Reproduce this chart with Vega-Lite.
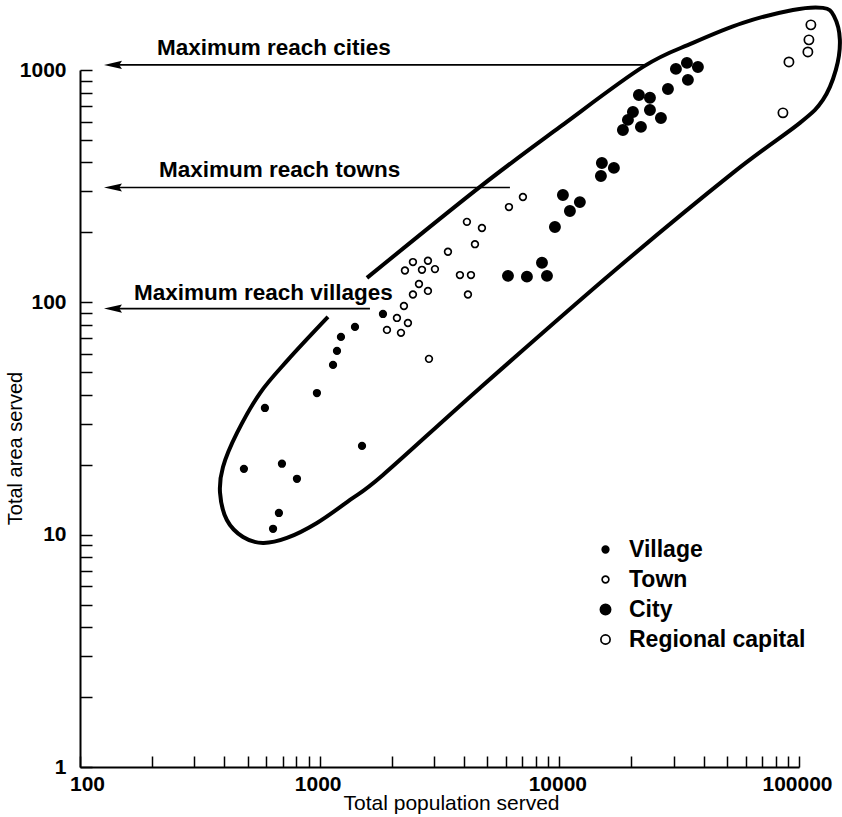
{
  "$schema": "https://vega.github.io/schema/vega-lite/v6.json",
  "width": 719,
  "height": 697,
  "autosize": {"type": "none"},
  "padding": {"left": 80, "top": 70, "right": 43, "bottom": 50},
  "background": "white",
  "config": {"view": {"stroke": null}, "font": "Liberation Sans"},
  "datasets": {
    "points": [
      {"pop": 1837, "area": 89.1, "type": "Village"},
      {"pop": 1404, "area": 78.4, "type": "Village"},
      {"pop": 1227, "area": 71.0, "type": "Village"},
      {"pop": 1181, "area": 61.8, "type": "Village"},
      {"pop": 1137, "area": 53.8, "type": "Village"},
      {"pop": 974, "area": 40.7, "type": "Village"},
      {"pop": 591, "area": 35.1, "type": "Village"},
      {"pop": 1502, "area": 24.1, "type": "Village"},
      {"pop": 483, "area": 19.2, "type": "Village"},
      {"pop": 696, "area": 20.2, "type": "Village"},
      {"pop": 804, "area": 17.4, "type": "Village"},
      {"pop": 676, "area": 12.4, "type": "Village"},
      {"pop": 639, "area": 10.6, "type": "Village"},
      {"pop": 7048, "area": 284, "type": "Town"},
      {"pop": 6163, "area": 257, "type": "Town"},
      {"pop": 4115, "area": 222, "type": "Town"},
      {"pop": 4754, "area": 209, "type": "Town"},
      {"pop": 4446, "area": 178, "type": "Town"},
      {"pop": 3430, "area": 165, "type": "Town"},
      {"pop": 2450, "area": 149, "type": "Town"},
      {"pop": 2830, "area": 151, "type": "Town"},
      {"pop": 2269, "area": 137, "type": "Town"},
      {"pop": 2672, "area": 138, "type": "Town"},
      {"pop": 3027, "area": 139, "type": "Town"},
      {"pop": 3848, "area": 131, "type": "Town"},
      {"pop": 4278, "area": 131, "type": "Town"},
      {"pop": 2596, "area": 120, "type": "Town"},
      {"pop": 2830, "area": 112, "type": "Town"},
      {"pop": 2450, "area": 108, "type": "Town"},
      {"pop": 4156, "area": 108, "type": "Town"},
      {"pop": 2247, "area": 96.5, "type": "Town"},
      {"pop": 2101, "area": 85.7, "type": "Town"},
      {"pop": 2335, "area": 81.5, "type": "Town"},
      {"pop": 1909, "area": 76.1, "type": "Town"},
      {"pop": 2184, "area": 73.9, "type": "Town"},
      {"pop": 2858, "area": 57.1, "type": "Town"},
      {"pop": 34070, "area": 1073, "type": "City"},
      {"pop": 37860, "area": 1031, "type": "City"},
      {"pop": 30650, "area": 1011, "type": "City"},
      {"pop": 34390, "area": 907, "type": "City"},
      {"pop": 28390, "area": 829, "type": "City"},
      {"pop": 21480, "area": 781, "type": "City"},
      {"pop": 23880, "area": 759, "type": "City"},
      {"pop": 20280, "area": 660, "type": "City"},
      {"pop": 23880, "area": 673, "type": "City"},
      {"pop": 26540, "area": 622, "type": "City"},
      {"pop": 19330, "area": 610, "type": "City"},
      {"pop": 18420, "area": 552, "type": "City"},
      {"pop": 21900, "area": 569, "type": "City"},
      {"pop": 15050, "area": 398, "type": "City"},
      {"pop": 16890, "area": 379, "type": "City"},
      {"pop": 14910, "area": 350, "type": "City"},
      {"pop": 10350, "area": 290, "type": "City"},
      {"pop": 12180, "area": 270, "type": "City"},
      {"pop": 11070, "area": 247, "type": "City"},
      {"pop": 9585, "area": 211, "type": "City"},
      {"pop": 8464, "area": 148, "type": "City"},
      {"pop": 6105, "area": 130, "type": "City"},
      {"pop": 7324, "area": 129, "type": "City"},
      {"pop": 8880, "area": 130, "type": "City"},
      {"pop": 112100, "area": 1564, "type": "Regional capital"},
      {"pop": 110000, "area": 1348, "type": "Regional capital"},
      {"pop": 108900, "area": 1196, "type": "Regional capital"},
      {"pop": 90780, "area": 1083, "type": "Regional capital"},
      {"pop": 85700, "area": 654, "type": "Regional capital"}
    ],
    "ellipse": [
      {"o": 1, "pop": 1575, "area": 127.4},
      {"o": 2, "pop": 4665, "area": 314},
      {"o": 3, "pop": 10060, "area": 569},
      {"o": 4, "pop": 22330, "area": 1031},
      {"o": 5, "pop": 36090, "area": 1308},
      {"o": 6, "pop": 58340, "area": 1595},
      {"o": 7, "pop": 94320, "area": 1814},
      {"o": 8, "pop": 125800, "area": 1851},
      {"o": 9, "pop": 139800, "area": 1710},
      {"o": 10, "pop": 148100, "area": 1348},
      {"o": 11, "pop": 142500, "area": 1001},
      {"o": 12, "pop": 125800, "area": 743.5},
      {"o": 13, "pop": 100900, "area": 592},
      {"o": 14, "pop": 52990, "area": 360.6},
      {"o": 15, "pop": 16730, "area": 135.1},
      {"o": 16, "pop": 4665, "area": 42.8},
      {"o": 17, "pop": 1837, "area": 18.07},
      {"o": 18, "pop": 1338, "area": 14.11},
      {"o": 19, "pop": 974, "area": 11.23},
      {"o": 20, "pop": 730, "area": 9.68},
      {"o": 21, "pop": 580, "area": 9.21},
      {"o": 22, "pop": 479, "area": 9.77},
      {"o": 23, "pop": 410, "area": 11.57},
      {"o": 24, "pop": 384, "area": 15.12},
      {"o": 25, "pop": 395, "area": 19.56},
      {"o": 26, "pop": 452, "area": 27.4},
      {"o": 27, "pop": 564, "area": 40.7},
      {"o": 28, "pop": 737, "area": 56.5},
      {"o": 29, "pop": 1083, "area": 86.5}
    ],
    "arrows": [
      {"pop": 140, "pop2": 22750, "area": 1052, "head": 137.3, "label": "Maximum reach cities", "tpop": 209.5, "tarea": 1245},
      {"pop": 140, "pop2": 6221, "area": 312, "head": 137.3, "label": "Maximum reach towns", "tpop": 213.6, "tarea": 371.6},
      {"pop": 140, "pop2": 1621, "area": 94, "head": 137.3, "label": "Maximum reach villages", "tpop": 168, "tarea": 109.8}
    ]
  },
  "encoding": {
    "x": {
      "field": "pop",
      "type": "quantitative",
      "scale": {"type": "log", "domain": [100, 100000]},
      "axis": {
        "title": "Total population served",
        "titleFont": "Liberation Sans",
        "titleFontSize": 21,
        "titleFontWeight": "normal",
        "titleColor": "black",
        "titleX": 371,
        "titleY": 36,
        "titleBaseline": "middle",
        "titleAlign": "center",
        "values": [100, 200, 300, 400, 500, 600, 700, 800, 900, 1000, 2000, 3000, 4000, 5000, 6000, 7000, 8000, 9000, 10000, 20000, 30000, 40000, 50000, 60000, 70000, 80000, 90000, 100000],
        "format": "d",
        "labelExpr": "(datum.value == 100 || datum.value == 1000 || datum.value == 10000 || datum.value == 100000) ? datum.label : ''",
        "labelFont": "Liberation Sans",
        "labelFontSize": 21,
        "labelFontWeight": "bold",
        "labelColor": "black",
        "labelBaseline": "middle",
        "labelPadding": 28,
        "labelOffset": {"condition": {"test": "datum.value == 100", "value": 7}, "value": -2},
        "labelFlush": false,
        "labelOverlap": false,
        "tickSize": -11,
        "tickWidth": 1.5,
        "tickColor": "black",
        "domainColor": "black",
        "domainWidth": 2,
        "grid": false
      }
    },
    "y": {
      "field": "area",
      "type": "quantitative",
      "scale": {"type": "log", "domain": [1, 1000]},
      "axis": {
        "title": "Total area served",
        "titleFont": "Liberation Sans",
        "titleFontSize": 20,
        "titleFontWeight": "normal",
        "titleColor": "black",
        "titleX": -65,
        "titleY": 378,
        "titleBaseline": "middle",
        "titleAlign": "center",
        "titleAngle": -90,
        "values": [1, 2, 3, 4, 5, 6, 7, 8, 9, 10, 20, 30, 40, 50, 60, 70, 80, 90, 100, 200, 300, 400, 500, 600, 700, 800, 900, 1000],
        "format": "d",
        "labelExpr": "(datum.value == 1 || datum.value == 10 || datum.value == 100 || datum.value == 1000) ? datum.label : ''",
        "labelFont": "Liberation Sans",
        "labelFontSize": 21,
        "labelFontWeight": "bold",
        "labelColor": "black",
        "labelPadding": 26,
        "labelFlush": false,
        "labelOverlap": false,
        "tickSize": -12,
        "tickWidth": 1.5,
        "tickColor": "black",
        "domainColor": "black",
        "domainWidth": 2,
        "grid": false
      }
    }
  },
  "layer": [
    {
      "data": {"name": "ellipse"},
      "mark": {"type": "line", "interpolate": "cardinal", "stroke": "black", "strokeWidth": 4, "clip": false},
      "encoding": {"order": {"field": "o", "type": "quantitative"}}
    },
    {
      "data": {"name": "arrows"},
      "mark": {"type": "rule", "stroke": "black", "strokeWidth": 1.6},
      "encoding": {"x2": {"field": "pop2"}}
    },
    {
      "data": {"name": "arrows"},
      "mark": {"type": "point", "shape": "M -1 0 L 1 -0.45 L 0.7 0 L 1 0.45 Z", "filled": true, "fill": "black", "strokeWidth": 0, "opacity": 1, "size": 324},
      "encoding": {"x": {"field": "head", "type": "quantitative"}}
    },
    {
      "data": {"name": "arrows"},
      "mark": {"type": "text", "align": "left", "baseline": "middle", "font": "Liberation Sans", "fontSize": 22.5, "fontWeight": "bold", "fill": "black"},
      "encoding": {
        "x": {"field": "tpop", "type": "quantitative"},
        "y": {"field": "tarea", "type": "quantitative"},
        "text": {"field": "label"}
      }
    },
    {
      "data": {"name": "points"},
      "mark": {"type": "point", "shape": "circle", "filled": true, "opacity": 1, "strokeWidth": 1.7},
      "encoding": {
        "fill": {
          "field": "type", "type": "nominal",
          "scale": {"domain": ["Village", "Town", "City", "Regional capital"], "range": ["black", "white", "black", "white"]},
          "legend": {"title": null, "orient": "none", "legendX": 514, "legendY": 468, "labelFont": "Liberation Sans", "labelFontSize": 23, "labelFontWeight": "bold", "labelColor": "black", "labelLimit": 400, "rowPadding": 6, "labelOffset": 12, "symbolStrokeWidth": 1.7}
        },
        "stroke": {
          "field": "type", "type": "nominal",
          "scale": {"domain": ["Village", "Town", "City", "Regional capital"], "range": ["black", "black", "black", "black"]},
          "legend": {"title": null, "orient": "none", "legendX": 514, "legendY": 468, "labelFont": "Liberation Sans", "labelFontSize": 23, "labelFontWeight": "bold", "labelColor": "black", "labelLimit": 400, "rowPadding": 6, "labelOffset": 12, "symbolStrokeWidth": 1.7}
        },
        "size": {
          "field": "type", "type": "nominal",
          "scale": {"type": "ordinal", "domain": ["Village", "Town", "City", "Regional capital"], "range": [43, 45, 105, 85]},
          "legend": {"title": null, "orient": "none", "legendX": 514, "legendY": 468, "labelFont": "Liberation Sans", "labelFontSize": 23, "labelFontWeight": "bold", "labelColor": "black", "labelLimit": 400, "rowPadding": 6, "labelOffset": 12, "symbolStrokeWidth": 1.7}
        }
      }
    }
  ]
}
